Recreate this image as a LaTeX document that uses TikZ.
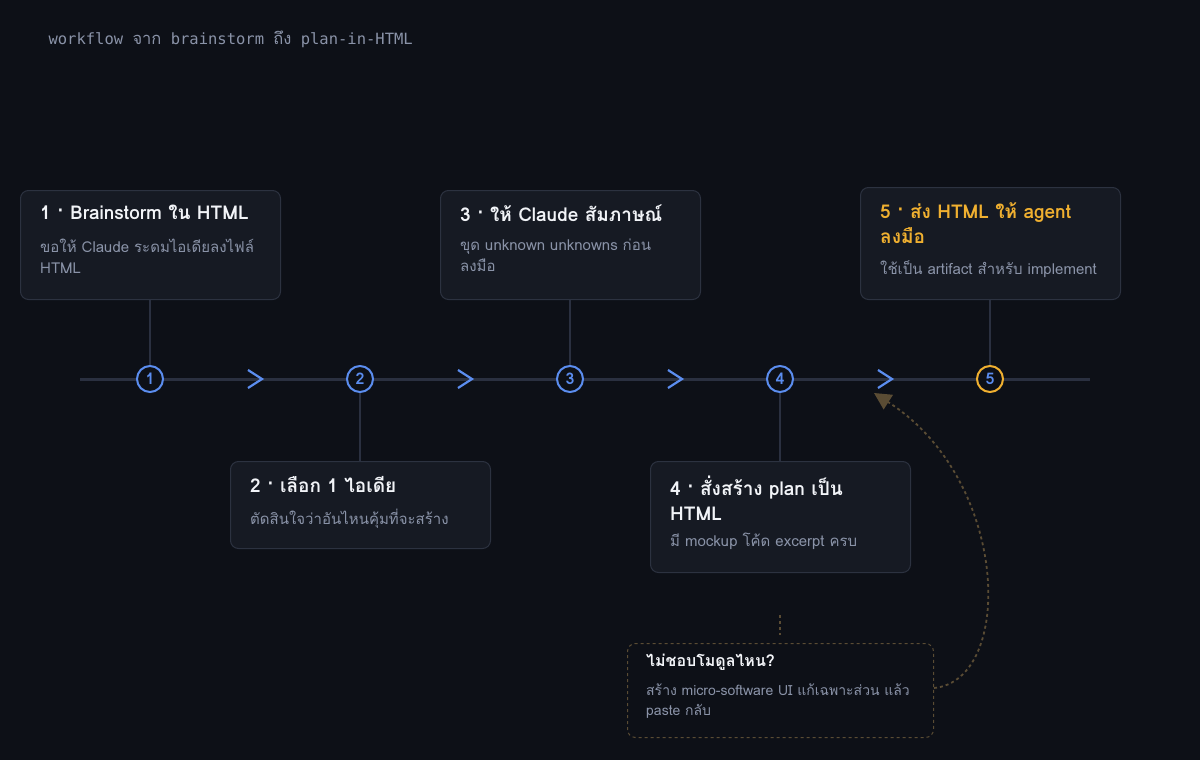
\documentclass[tikz,border=0pt]{standalone}
\usepackage{fontspec}
\setmainfont[Script=Thai]{Loma}
\newfontfamily\monofont{DejaVu Sans Mono}
\newfontfamily\thaimono[Script=Thai]{Loma}
\usetikzlibrary{arrows.meta}
\definecolor{bg}{HTML}{0D1017}
\definecolor{boxbg}{HTML}{161A23}
\definecolor{boxline}{HTML}{2C3240}
\definecolor{axis}{HTML}{2A3040}
\definecolor{stepblue}{HTML}{5B8DEF}
\definecolor{steporange}{HTML}{F0B030}
\definecolor{subtext}{HTML}{8A93A8}
\definecolor{headtext}{HTML}{F2F4F8}
\definecolor{dashbrown}{HTML}{5A4C34}
\tikzset{
  stepbox/.style={draw=boxline, fill=boxbg, rounded corners=8pt, line width=1pt,
    anchor=north west, minimum width=260pt, inner sep=0pt},
  notebox/.style={stepbox, draw=dashbrown, dashed, fill=bg, minimum width=306pt},
  headline/.style={anchor=north west, inner sep=0pt, text width=220pt, align=left,
    font=\fontsize{19}{25}\selectfont\bfseries},
  bodyline/.style={anchor=north west, inner sep=0pt, text width=220pt, align=left,
    text=subtext, font=\fontsize{15}{21}\selectfont},
  stepdot/.style={circle, draw=stepblue, fill=bg, line width=2pt, minimum size=26pt,
    inner sep=0pt, text=stepblue, font=\fontsize{16}{16}\selectfont\bfseries},
  stem/.style={draw=axis, line width=1.2pt},
  chev/.style={draw=stepblue, line width=2.2pt}
}
\begin{document}
\begin{tikzpicture}[x=1pt, y=-1pt, text=headtext]
  \fill[bg] (0,0) rectangle (1200,760);
  \useasboundingbox (0,0) rectangle (1200,760);
  % title
  \node[anchor=west, text=subtext, font=\fontsize{15.5}{15.5}\selectfont] (title) at (45,39)
    {\monofont workflow {\thaimono\fontsize{16.5}{16.5}\selectfont จาก} brainstorm {\thaimono\fontsize{16.5}{16.5}\selectfont ถึง} plan-in-HTML};
  % axis
  \coordinate (axisL) at (80,379);
  \coordinate (axisR) at (1090,379);
  \draw[draw=axis, line width=3pt] (axisL) -- (axisR);
  % boxes
  \node[stepbox, minimum height=109pt] (box1) at (20,190) {};
  \node[headline] (h1) at (40,205) {1 · Brainstorm ใน HTML};
  \node[bodyline] (b1) at (40,239) {ขอให้ Claude ระดมไอเดียลงไฟล์ HTML};
  \node[stepbox, minimum height=109pt] (box3) at (440,190) {};
  \node[headline] (h3) at (460,205) {3 · ให้ Claude สัมภาษณ์};
  \node[bodyline, text width=210pt] (b3) at (460,239) {ขุด unknown unknowns ก่อน ลงมือ};
  \node[stepbox, minimum height=112pt] (box5) at (860,187) {};
  \node[headline, text=steporange, text width=205pt] (h5) at (880,202) {5 · ส่ง HTML ให้ agent ลงมือ};
  \node[bodyline] (b5) at (880,260) {ใช้เป็น artifact สำหรับ implement};
  \node[stepbox, minimum height=87pt] (box2) at (230,461) {};
  \node[headline] (h2) at (250,476) {2 · เลือก 1 ไอเดีย};
  \node[bodyline] (b2) at (250,509) {ตัดสินใจว่าอันไหนคุ้มที่จะสร้าง};
  \node[stepbox, minimum height=111pt] (box4) at (650,461) {};
  \node[headline, text width=190pt] (h4) at (670,476) {4 · สั่งสร้าง plan เป็น HTML};
  \node[bodyline] (b4) at (670,533) {มี mockup โค้ด excerpt ครบ};
  \node[notebox, minimum height=94pt] (note) at (627,643) {};
  \node[headline, font=\fontsize{16}{20}\selectfont\bfseries] (hn) at (646,654) {ไม่ชอบโมดูลไหน?};
  \node[bodyline, text width=275pt, font=\fontsize{14}{20}\selectfont] (bn) at (646,684)
    {สร้าง micro-software UI แก้เฉพาะส่วน แล้ว\\paste กลับ};
  % stems
  \foreach \i/\x in {1/150,2/360,3/570,4/780,5/990}
    \coordinate (s\i) at (\x,379);
  \draw[stem] (box1.south -| s1) -- (s1);
  \draw[stem] (box3.south -| s3) -- (s3);
  \draw[stem] (box5.south -| s5) -- (s5);
  \draw[stem] (box2.north -| s2) -- (s2);
  \draw[stem] (box4.north -| s4) -- (s4);
  % dots
  \foreach \i in {1,2,3,4}
    \node[stepdot] (dot\i) at (s\i) {\i};
  \node[stepdot, draw=steporange, text=stepblue] (dot5) at (s5) {5};
  % chevrons
  \foreach \x in {255,465,675,885}
    \draw[chev] (\x-7,370) -- (\x+7,379) -- (\x-7,388);
  % feedback loop
  \coordinate (stubA) at (780,615);
  \coordinate (stubB) at (780,635);
  \coordinate (loopEnd) at (874,393);
  \draw[dashbrown, dashed, line width=1.6pt] (stubA) -- (stubB);
  \draw[dashbrown, dashed, line width=1.8pt, -{Triangle[length=17pt, width=17pt]}]
    (note.east |- 0,688) .. controls (1015,680) and (1010,480) .. (loopEnd);
\end{tikzpicture}
\end{document}
